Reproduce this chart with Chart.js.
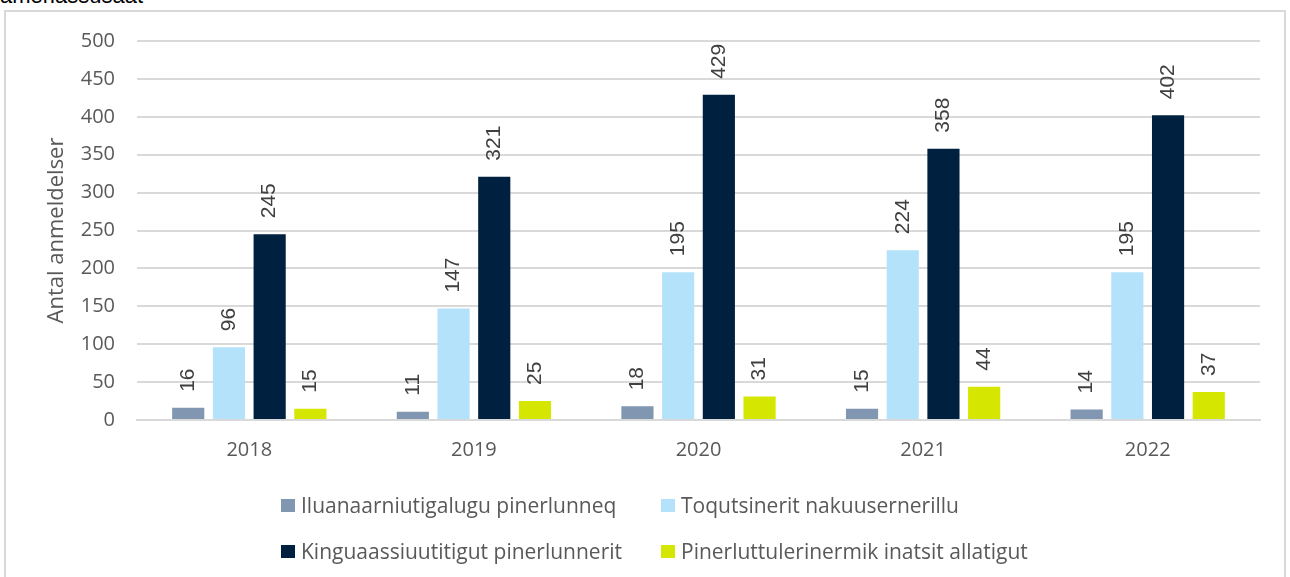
<!DOCTYPE html>
<html>
<head>
<meta charset="utf-8">
<script src="https://cdn.jsdelivr.net/npm/chart.js@4.4.1/dist/chart.umd.min.js"></script>
<style>
  body { margin: 0; background: #fff; }
  #wrap { position: relative; width: 1290px; height: 577px; overflow: hidden; }
  #topText { position: absolute; left: 0; top: -15px; font: 22px "Liberation Sans", Arial, sans-serif; line-height: 22px; color: #000; }
  #frame { position: absolute; left: 4px; top: 10px; width: 1282px; height: 600px; border: 2px solid #d9d9d9; box-sizing: border-box; }
  #chart { position: absolute; left: 0; top: 0; }
  #legend { position: absolute; left: 0; top: 0; font: 21px "Open Sans", sans-serif; color: #595959; }
  .item { position: absolute; white-space: nowrap; }
  .box { position: absolute; width: 14px; height: 13px; }
  .lbl { position: absolute; left: 20px; top: -8px; line-height: 28px; }
</style>
</head>
<body>
<div id="wrap">
  <div id="topText">amerlassusaat</div>
  <div id="frame"></div>
  <canvas id="chart" width="1290" height="577"></canvas>
  <div id="legend"></div>
</div>
<script>
const years = ["2018", "2019", "2020", "2021", "2022"];
const seriesNames = [
  "Iluanaarniutigalugu pinerlunneq",
  "Toqutsinerit nakuusernerillu",
  "Kinguaassiuutitigut pinerlunnerit",
  "Pinerluttulerinermik inatsit allatigut",
];
const iluanaarniutigalugu = [16, 11, 18, 15, 14];
const toqutsinerit = [96, 147, 195, 224, 195];
const kinguaassiuutitigut = [245, 321, 429, 358, 402];
const pinerluttulerinermik = [15, 25, 31, 44, 37];
const colors = ["#8096b1", "#b4e2fb", "#00203f", "#d5e600"];
const yTicks = [0, 50, 100, 150, 200, 250, 300, 350, 400, 450, 500];

const allValues = [iluanaarniutigalugu, toqutsinerit, kinguaassiuutitigut, pinerluttulerinermik];

// value labels above bars, rotated
const barLabels = {
  id: "barLabels",
  afterDatasetsDraw(chart) {
    const ctx = chart.ctx;
    ctx.save();
    ctx.font = '21px "Liberation Sans", Arial, sans-serif';
    ctx.fillStyle = "#404040";
    ctx.textAlign = "left";
    ctx.textBaseline = "middle";
    chart.data.datasets.forEach((ds, i) => {
      chart.getDatasetMeta(i).data.forEach((bar, j) => {
        ctx.save();
        ctx.translate(bar.x, bar.y - 16);
        ctx.rotate(-Math.PI / 2);
        ctx.fillText(String(ds.data[j]), 0, 0);
        ctx.restore();
      });
    });
    ctx.restore();
  },
};

const chart = new Chart(document.getElementById("chart"), {
  type: "bar",
  data: {
    labels: years,
    datasets: allValues.map((vals, i) => ({
      label: seriesNames[i],
      data: vals,
      backgroundColor: colors[i],
      categoryPercentage: 0.725,
      barPercentage: 0.79,
    })),
  },
  options: {
    responsive: false,
    animation: false,
    layout: { padding: { left: 0, top: 41, right: 30, bottom: 107 } },
    plugins: { legend: { display: false }, tooltip: { enabled: false } },
    scales: {
      x: {
        grid: { display: false, drawTicks: false },
        border: { color: "#d9d9d9", width: 2 },
        ticks: { color: "#595959", font: { family: "Open Sans", size: 20 }, padding: 18 },
        afterFit(scale) { scale.height = 50; },
      },
      y: {
        min: 0,
        max: 500,
        afterBuildTicks(scale) { scale.ticks = yTicks.map((v) => ({ value: v })); },
        grid: { color: "#d9d9d9", lineWidth: 2, drawTicks: false },
        border: { display: false },
        ticks: { color: "#595959", font: { family: "Open Sans", size: 20 }, padding: 22 },
        title: {
          display: true,
          text: "Antal anmeldelser",
          color: "#595959",
          font: { family: "Open Sans", size: 22 },
          padding: { top: 44, bottom: 0 },
        },
        afterFit(scale) { scale.width = 137; },
      },
    },
  },
  plugins: [barLabels],
});

// legend in two rows, two columns
const legendPos = [[281, 499], [661, 499], [281, 545], [661, 545]];
const legendEl = document.getElementById("legend");
seriesNames.forEach((name, i) => {
  const item = document.createElement("div");
  item.className = "item";
  item.style.left = legendPos[i][0] + "px";
  item.style.top = legendPos[i][1] + "px";
  item.innerHTML = `<span class="box" style="background:${colors[i]}"></span><span class="lbl">${name}</span>`;
  legendEl.appendChild(item);
});
</script>
</body>
</html>
